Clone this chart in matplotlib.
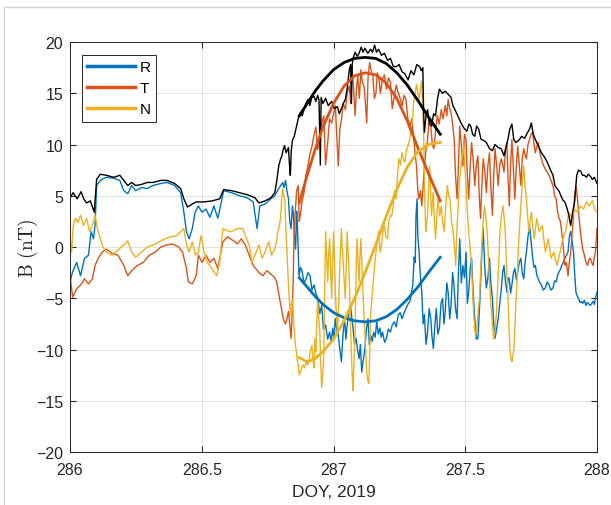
import numpy as np
import matplotlib
matplotlib.use('Agg')
import matplotlib.pyplot as plt
from matplotlib.patches import Rectangle

# MATLAB default line colours
C_R = '#0072BD'
C_T = '#D95319'
C_N = '#EDB120'

# |B| (black)
t_b = [286.000, 286.012, 286.027, 286.042, 286.052, 286.063, 286.077, 286.092, 286.101, 286.115,
       286.137, 286.167, 286.189, 286.204, 286.219, 286.234, 286.249, 286.271, 286.293, 286.315,
       286.345, 286.368, 286.397, 286.420, 286.432, 286.446, 286.464, 286.479, 286.509, 286.539,
       286.568, 286.583, 286.613, 286.643, 286.673, 286.702, 286.717, 286.740, 286.762, 286.777,
       286.785, 286.792, 286.798, 286.804, 286.809, 286.814, 286.820, 286.829, 286.833, 286.836,
       286.840, 286.844, 286.851, 286.859, 286.866, 286.874, 286.881, 286.888, 286.895, 286.903,
       286.910, 286.918, 286.926, 286.933, 286.940, 286.945, 286.950, 286.953, 286.960, 286.970,
       286.980, 286.993, 287.003, 287.015, 287.022, 287.030, 287.037, 287.045, 287.052, 287.060,
       287.065, 287.068, 287.071, 287.074, 287.082, 287.090, 287.097, 287.105, 287.112, 287.119,
       287.130, 287.141, 287.148, 287.156, 287.163, 287.171, 287.182, 287.193, 287.205, 287.216,
       287.227, 287.238, 287.249, 287.260, 287.271, 287.283, 287.294, 287.305, 287.316, 287.327,
       287.333, 287.339, 287.342, 287.345, 287.351, 287.357, 287.364, 287.372, 287.380, 287.387,
       287.395, 287.402, 287.413, 287.424, 287.435, 287.446, 287.453, 287.461, 287.470, 287.484,
       287.495, 287.506, 287.514, 287.521, 287.528, 287.536, 287.543, 287.551, 287.560, 287.570,
       287.580, 287.592, 287.603, 287.613, 287.625, 287.636, 287.647, 287.655, 287.662, 287.669,
       287.677, 287.684, 287.692, 287.703, 287.714, 287.725, 287.737, 287.744, 287.751, 287.758,
       287.766, 287.778, 287.789, 287.800, 287.811, 287.822, 287.833, 287.840, 287.848, 287.855,
       287.863, 287.870, 287.878, 287.886, 287.893, 287.900, 287.908, 287.915, 287.923, 287.930,
       287.938, 287.945, 287.952, 287.960, 287.967, 287.975, 287.982, 287.990, 288.000]
b_mag = [4.8, 5.3, 4.7, 5.4, 4.7, 4.3, 4.5, 3.4, 6.6, 7.1,
         7.0, 6.8, 7.0, 6.5, 6.0, 6.3, 6.0, 6.1, 6.3, 6.3,
         6.5, 6.5, 6.2, 5.7, 4.7, 3.9, 4.2, 4.4, 4.4, 4.5,
         4.7, 5.6, 5.5, 5.3, 5.1, 4.8, 4.3, 4.5, 4.8, 5.3,
         6.5, 7.9, 8.5, 8.9, 9.5, 9.9, 9.2, 9.7, 8.0, 7.0,
         9.5, 10.4, 10.8, 11.7, 12.5, 13.1, 12.8, 13.4, 14.0, 14.4,
         13.8, 14.6, 14.7, 14.2, 14.8, 14.3, 8.0, 14.6, 14.0, 14.5,
         13.8, 14.2, 13.5, 13.7, 13.0, 13.5, 14.0, 14.4, 15.5, 17.3,
         17.8, 14.0, 17.8, 18.4, 19.0, 18.6, 18.9, 19.5, 19.0, 19.4,
         18.9, 19.3, 19.0, 19.7, 19.0, 19.3, 18.7, 18.9, 18.2, 18.4,
         17.6, 17.6, 17.8, 17.1, 16.9, 16.3, 17.2, 16.8, 17.8, 17.6,
         17.2, 17.5, 13.0, 11.2, 12.8, 13.4, 12.0, 11.8, 13.0, 12.8,
         14.5, 15.4, 15.0, 15.2, 14.9, 14.6, 13.8, 13.4, 12.9, 12.1,
         11.6, 11.3, 12.0, 11.8, 11.0, 10.8, 11.8, 11.5, 10.5, 10.4,
         10.2, 9.6, 9.4, 10.0, 9.7, 9.6, 8.9, 9.8, 10.5, 11.5,
         12.0, 10.5, 10.2, 10.4, 10.8, 10.6, 11.2, 11.5, 12.1, 11.0,
         10.5, 9.8, 9.2, 8.8, 8.3, 7.6, 7.0, 6.0, 5.7, 5.5,
         5.0, 4.6, 4.4, 3.8, 3.1, 2.1, 3.5, 4.4, 7.0, 7.5,
         7.4, 7.0, 7.0, 6.8, 7.1, 6.9, 6.6, 6.8, 6.2]

# R component
t_r = [286.000, 286.010, 286.025, 286.040, 286.055, 286.070, 286.080, 286.089, 286.095, 286.101,
       286.115, 286.137, 286.167, 286.189, 286.204, 286.219, 286.234, 286.249, 286.271, 286.293,
       286.315, 286.345, 286.368, 286.397, 286.420, 286.432, 286.442, 286.452, 286.464, 286.475,
       286.487, 286.501, 286.516, 286.531, 286.546, 286.561, 286.571, 286.583, 286.613, 286.643,
       286.673, 286.695, 286.710, 286.720, 286.740, 286.762, 286.777, 286.785, 286.792, 286.800,
       286.807, 286.812, 286.818, 286.823, 286.829, 286.834, 286.839, 286.844, 286.848, 286.852,
       286.856, 286.860, 286.863, 286.869, 286.875, 286.881, 286.888, 286.896, 286.903, 286.911,
       286.918, 286.926, 286.933, 286.940, 286.948, 286.955, 286.962, 286.970, 286.978, 286.985,
       286.991, 286.997, 287.002, 287.007, 287.012, 287.018, 287.024, 287.030, 287.036, 287.042,
       287.047, 287.052, 287.058, 287.064, 287.069, 287.074, 287.080, 287.086, 287.091, 287.097,
       287.102, 287.107, 287.113, 287.119, 287.125, 287.131, 287.136, 287.141, 287.147, 287.152,
       287.158, 287.164, 287.170, 287.176, 287.181, 287.186, 287.194, 287.201, 287.208, 287.216,
       287.223, 287.231, 287.238, 287.246, 287.253, 287.260, 287.268, 287.275, 287.282, 287.290,
       287.295, 287.301, 287.306, 287.310, 287.313, 287.317, 287.320, 287.324, 287.330, 287.335,
       287.340, 287.345, 287.351, 287.357, 287.363, 287.369, 287.374, 287.379, 287.385, 287.390,
       287.396, 287.402, 287.408, 287.414, 287.419, 287.424, 287.430, 287.435, 287.441, 287.446,
       287.452, 287.457, 287.463, 287.469, 287.474, 287.479, 287.485, 287.491, 287.497, 287.503,
       287.508, 287.513, 287.519, 287.524, 287.530, 287.536, 287.542, 287.548, 287.553, 287.558,
       287.563, 287.568, 287.574, 287.580, 287.586, 287.592, 287.597, 287.603, 287.608, 287.613,
       287.619, 287.625, 287.631, 287.637, 287.642, 287.647, 287.653, 287.658, 287.662, 287.667,
       287.672, 287.677, 287.683, 287.688, 287.694, 287.699, 287.705, 287.711, 287.716, 287.722,
       287.727, 287.732, 287.738, 287.744, 287.750, 287.756, 287.761, 287.766, 287.772, 287.777,
       287.783, 287.789, 287.796, 287.804, 287.811, 287.818, 287.825, 287.833, 287.839, 287.845,
       287.850, 287.856, 287.861, 287.866, 287.872, 287.878, 287.884, 287.890, 287.895, 287.900,
       287.906, 287.911, 287.915, 287.920, 287.925, 287.930, 287.935, 287.940, 287.946, 287.952,
       287.958, 287.964, 287.970, 287.975, 287.980, 287.985, 287.990, 287.994, 288.000]
b_r = [-3.4, -2.4, -1.5, -2.8, -1.1, -0.8, 1.5, 0.8, 2.1, 6.0,
       6.5, 6.8, 6.7, 6.5, 5.5, 5.2, 6.0, 5.5, 5.8, 5.7,
       6.0, 6.2, 6.3, 6.0, 5.3, 3.4, 1.5, 0.8, 1.8, 3.4,
       4.0, 3.4, 3.7, 2.9, 4.0, 2.8, 4.0, 5.5, 5.3, 5.0,
       4.8, 4.4, 1.8, 4.0, 4.2, 4.7, 5.0, 5.4, 5.7, 6.0,
       6.3, 5.8, 6.5, 5.5, 4.7, 2.5, 1.8, 4.0, 3.1, 1.0,
       -0.2, 3.5, 2.1, -2.8, -2.0, -2.4, -3.5, -3.1, -2.5, -2.8,
       -4.2, -3.7, -4.5, -5.0, -6.5, -5.7, -8.0, -7.6, -9.0, -8.3,
       -9.3, -7.9, -9.0, -7.0, -8.0, -8.6, -10.0, -11.2, -8.5, -7.0,
       -9.0, -7.6, -6.5, -5.7, -6.8, -7.9, -9.5, -8.9, -10.0, -10.9,
       -9.5, -12.2, -11.0, -9.9, -8.0, -7.0, -9.5, -8.6, -9.2, -8.3,
       -8.8, -7.3, -8.5, -7.9, -8.8, -8.3, -9.3, -8.9, -8.0, -8.3,
       -7.6, -7.3, -7.8, -6.6, -6.4, -7.0, -6.4, -6.0, -5.6, -5.3,
       -4.6, -3.7, -1.0, -1.5, 3.0, 4.7, 1.0, -0.2, -3.0, -4.4,
       -7.5, -6.6, -9.5, -8.3, -6.0, -7.0, -8.8, -9.9, -7.5, -6.0,
       -8.5, -7.9, -5.5, -5.0, -7.5, -6.3, -3.5, -4.4, -7.0, -5.7,
       -2.5, -3.7, -6.0, -7.0, -2.5, 0.8, -3.5, -1.8, -3.0, -0.5,
       -5.5, -4.4, -2.0, -1.1, -4.5, -7.0, -9.0, -8.9, -6.5, -3.7,
       -0.5, 1.8, -2.0, -4.0, -3.0, -1.1, -3.5, -5.0, -7.5, -8.9,
       -8.0, -7.0, -5.5, -4.0, -2.5, -1.8, -3.5, -4.4, -3.0, -3.1,
       -4.5, -3.7, -2.5, -2.1, -3.2, -2.4, -1.5, -1.1, -2.5, -3.1,
       -1.5, -0.5, 1.0, 2.1, 0.5, -1.1, -2.0, -1.8, -2.8, -3.1,
       -3.5, -3.7, -4.2, -4.0, -3.4, -3.7, -4.2, -4.0, -3.3, -3.4,
       -2.8, -2.4, -2.2, -1.8, -1.5, -1.1, -0.8, -0.5, 1.0, 1.5,
       0.5, -0.5, -2.5, -4.4, -4.8, -5.0, -5.4, -5.3, -5.5, -5.2,
       -5.7, -5.4, -5.6, -5.7, -5.5, -5.3, -5.6, -5.0, -4.4]

# T component
t_t = [286.000, 286.010, 286.025, 286.040, 286.055, 286.070, 286.085, 286.095, 286.107, 286.122,
       286.137, 286.159, 286.182, 286.204, 286.219, 286.234, 286.256, 286.278, 286.301, 286.323,
       286.345, 286.368, 286.390, 286.412, 286.427, 286.442, 286.449, 286.464, 286.479, 286.487,
       286.501, 286.516, 286.531, 286.546, 286.561, 286.580, 286.598, 286.621, 286.635, 286.650,
       286.665, 286.680, 286.695, 286.717, 286.732, 286.747, 286.769, 286.777, 286.784, 286.790,
       286.795, 286.801, 286.807, 286.812, 286.818, 286.823, 286.829, 286.834, 286.839, 286.843,
       286.847, 286.850, 286.854, 286.860, 286.866, 286.870, 286.874, 286.881, 286.888, 286.895,
       286.903, 286.910, 286.918, 286.925, 286.933, 286.940, 286.948, 286.955, 286.963, 286.970,
       286.978, 286.985, 286.993, 287.000, 287.007, 287.012, 287.018, 287.024, 287.030, 287.037,
       287.045, 287.052, 287.060, 287.065, 287.070, 287.076, 287.082, 287.087, 287.092, 287.098,
       287.104, 287.110, 287.116, 287.121, 287.126, 287.131, 287.137, 287.143, 287.149, 287.155,
       287.161, 287.166, 287.171, 287.178, 287.186, 287.193, 287.201, 287.208, 287.216, 287.223,
       287.231, 287.238, 287.246, 287.253, 287.260, 287.268, 287.275, 287.282, 287.290, 287.297,
       287.305, 287.310, 287.315, 287.320, 287.324, 287.330, 287.335, 287.340, 287.345, 287.351,
       287.357, 287.363, 287.369, 287.375, 287.381, 287.388, 287.394, 287.401, 287.409, 287.416,
       287.424, 287.430, 287.435, 287.441, 287.446, 287.452, 287.458, 287.463, 287.469, 287.474,
       287.479, 287.485, 287.491, 287.497, 287.503, 287.508, 287.513, 287.519, 287.524, 287.530,
       287.536, 287.542, 287.548, 287.553, 287.558, 287.563, 287.568, 287.574, 287.580, 287.586,
       287.592, 287.597, 287.603, 287.608, 287.613, 287.619, 287.625, 287.631, 287.637, 287.642,
       287.647, 287.653, 287.658, 287.662, 287.667, 287.672, 287.677, 287.683, 287.688, 287.694,
       287.699, 287.705, 287.711, 287.716, 287.722, 287.727, 287.732, 287.738, 287.744, 287.750,
       287.756, 287.761, 287.766, 287.772, 287.777, 287.783, 287.789, 287.796, 287.804, 287.811,
       287.818, 287.825, 287.833, 287.839, 287.845, 287.850, 287.856, 287.861, 287.866, 287.872,
       287.878, 287.884, 287.890, 287.895, 287.900, 287.906, 287.911, 287.915, 287.920, 287.925,
       287.930, 287.935, 287.940, 287.946, 287.952, 287.958, 287.964, 287.970, 287.975, 287.980,
       287.985, 287.990, 287.994, 288.000]
b_t = [-2.8, -4.9, -4.1, -3.7, -3.1, -3.6, -3.1, -1.8, -1.1, -0.5,
       -0.2, -0.6, -0.8, -1.8, -2.8, -2.3, -1.8, -1.5, -0.8, -0.5,
       0.0, 0.2, 0.3, 0.0, -0.5, -2.1, -3.4, -3.6, -2.8, -0.8,
       -1.5, -0.8, -1.5, -1.1, -2.1, 0.5, 1.0, 0.6, 0.3, 0.8,
       0.2, -0.8, -1.8, -2.5, -2.8, -2.3, -2.8, -3.0, -3.4, -4.2,
       -5.0, -5.8, -6.7, -7.2, -7.5, -7.0, -6.3, -7.5, -8.9, -6.5,
       -3.4, 1.0, 3.1, 5.5, 6.0, 2.5, 3.1, 4.5, 5.3, 7.0,
       7.9, 9.0, 9.8, 10.8, 11.7, 9.5, 11.1, 12.0, 12.8, 8.0,
       10.2, 12.5, 12.1, 13.0, 13.8, 11.0, 7.9, 11.5, 12.4, 14.0,
       13.4, 15.0, 15.7, 14.0, 17.6, 15.5, 12.8, 15.5, 16.7, 14.5,
       17.3, 16.0, 15.7, 14.0, 12.1, 16.5, 18.0, 17.2, 16.7, 14.5,
       15.0, 17.0, 16.7, 15.0, 16.4, 16.8, 15.4, 16.5, 16.1, 13.5,
       14.7, 15.8, 15.0, 14.5, 13.8, 14.8, 14.4, 12.5, 11.8, 12.5,
       10.5, 9.0, 7.9, 5.5, 4.7, 5.5, 4.0, 6.0, 7.9, 9.5,
       10.5, 12.5, 11.8, 10.0, 9.6, 11.5, 12.8, 12.0, 13.4, 12.5,
       13.8, 12.8, 14.4, 13.5, 13.1, 12.0, 10.5, 7.0, 4.7, 8.0,
       11.8, 10.0, 7.9, 11.0, 10.5, 7.0, 4.7, 8.0, 10.2, 8.5,
       6.0, 8.0, 8.9, 5.0, 2.8, 6.0, 8.6, 7.5, 5.3, 8.0,
       9.2, 6.0, 3.1, 7.0, 9.6, 8.0, 6.0, 8.0, 8.6, 8.0,
       7.3, 9.5, 10.2, 7.0, 4.0, 8.0, 10.5, 7.5, 4.7, 8.0,
       9.8, 8.0, 6.0, 8.5, 9.6, 9.0, 8.6, 10.0, 10.5, 11.0,
       11.2, 10.0, 9.2, 9.8, 10.2, 9.2, 8.6, 8.0, 7.6, 7.3,
       7.0, 6.5, 6.0, 5.0, 4.7, 3.5, 2.8, 2.5, 1.5, 0.0,
       -1.8, -1.5, -2.8, -1.5, -0.5, 1.5, 3.1, 5.0, 6.0, 5.0,
       3.4, 2.0, 0.8, -0.2, -0.8, -1.5, -1.8, -1.2, -1.1, -1.5,
       -1.8, -1.0, -0.5, 1.8]

# N component
t_n = [286.000, 286.006, 286.012, 286.021, 286.030, 286.040, 286.051, 286.063, 286.074, 286.085,
       286.095, 286.104, 286.115, 286.125, 286.137, 286.159, 286.182, 286.204, 286.219, 286.234,
       286.249, 286.271, 286.293, 286.315, 286.338, 286.360, 286.382, 286.405, 286.420, 286.432,
       286.442, 286.452, 286.464, 286.476, 286.487, 286.497, 286.509, 286.521, 286.531, 286.546,
       286.557, 286.568, 286.580, 286.595, 286.613, 286.635, 286.655, 286.670, 286.680, 286.690,
       286.702, 286.717, 286.729, 286.740, 286.754, 286.765, 286.777, 286.783, 286.789, 286.794,
       286.799, 286.803, 286.807, 286.811, 286.815, 286.818, 286.821, 286.825, 286.829, 286.833,
       286.836, 286.840, 286.844, 286.848, 286.851, 286.855, 286.859, 286.862, 286.866, 286.870,
       286.874, 286.879, 286.884, 286.890, 286.896, 286.902, 286.908, 286.913, 286.918, 286.922,
       286.926, 286.930, 286.933, 286.937, 286.940, 286.944, 286.948, 286.951, 286.955, 286.959,
       286.963, 286.966, 286.970, 286.974, 286.978, 286.981, 286.985, 286.989, 286.993, 286.996,
       287.000, 287.004, 287.007, 287.011, 287.015, 287.019, 287.022, 287.026, 287.030, 287.033,
       287.037, 287.041, 287.045, 287.048, 287.052, 287.056, 287.060, 287.063, 287.067, 287.071,
       287.074, 287.078, 287.082, 287.085, 287.089, 287.093, 287.097, 287.100, 287.104, 287.108,
       287.112, 287.115, 287.119, 287.123, 287.126, 287.130, 287.134, 287.138, 287.141, 287.147,
       287.152, 287.157, 287.161, 287.166, 287.171, 287.177, 287.182, 287.188, 287.193, 287.199,
       287.205, 287.210, 287.216, 287.221, 287.226, 287.232, 287.238, 287.243, 287.248, 287.254,
       287.260, 287.266, 287.271, 287.277, 287.283, 287.289, 287.295, 287.300, 287.305, 287.310,
       287.315, 287.320, 287.324, 287.330, 287.335, 287.338, 287.342, 287.346, 287.350, 287.354,
       287.357, 287.361, 287.365, 287.369, 287.372, 287.376, 287.379, 287.383, 287.387, 287.392,
       287.397, 287.403, 287.409, 287.414, 287.420, 287.426, 287.432, 287.437, 287.442, 287.448,
       287.454, 287.459, 287.464, 287.468, 287.473, 287.478, 287.484, 287.489, 287.494, 287.498,
       287.503, 287.508, 287.513, 287.518, 287.524, 287.528, 287.533, 287.538, 287.543, 287.548,
       287.554, 287.558, 287.562, 287.567, 287.573, 287.578, 287.583, 287.588, 287.592, 287.597,
       287.603, 287.608, 287.613, 287.618, 287.622, 287.627, 287.632, 287.637, 287.643, 287.647,
       287.652, 287.657, 287.662, 287.666, 287.670, 287.674, 287.677, 287.681, 287.685, 287.689,
       287.693, 287.698, 287.702, 287.706, 287.711, 287.716, 287.722, 287.727, 287.732, 287.737,
       287.741, 287.746, 287.751, 287.756, 287.762, 287.771, 287.781, 287.792, 287.804, 287.815,
       287.826, 287.836, 287.848, 287.860, 287.870, 287.881, 287.893, 287.905, 287.915, 287.926,
       287.938, 287.949, 287.960, 287.970, 287.982, 287.991, 288.000]
b_n = [0.8, -0.5, 2.1, 2.8, 2.4, 3.1, 2.1, 2.8, 1.5, 2.1,
       3.1, 1.8, 0.8, 0.0, -0.5, -0.8, -0.3, 0.2, 0.6, -0.5,
       -1.0, -0.5, 0.0, 0.2, 0.5, 0.8, 1.0, 1.1, 1.5, 1.8,
       0.2, -0.5, 0.5, -0.8, -0.5, 1.1, -0.5, -1.5, -1.8, -2.4,
       -2.8, -1.5, 1.8, 1.6, 1.5, 1.8, 1.8, 0.8, 0.2, -1.5,
       -0.8, 0.2, -1.1, -0.5, 0.5, -0.8, -0.2, 0.5, 1.5, 2.0,
       2.8, 4.5, 5.7, 5.0, 4.7, 2.5, 0.8, -1.5, -3.7, -5.5,
       -6.7, -5.5, -5.0, -7.0, -8.3, -9.5, -10.2, -11.0, -11.5, -12.5,
       -12.2, -11.8, -11.5, -11.8, -11.2, -11.5, -10.9, -10.0, -9.6, -11.0,
       -11.8, -9.0, -10.2, -7.0, -5.0, -7.0, -8.3, -11.0, -13.7, -12.5,
       -10.9, -5.0, 1.5, -1.0, -3.4, -1.0, 0.8, -2.0, -5.0, -2.0,
       1.5, -1.5, -4.4, -6.5, -8.3, -6.0, -3.4, -0.5, 1.8, 0.0,
       -1.8, -3.5, -5.0, -2.0, 1.5, -1.0, -3.1, -6.5, -9.9, -12.5,
       -14.0, -11.0, -8.3, -3.5, 0.8, -1.5, -3.4, -1.0, 0.8, -2.0,
       -4.4, -6.5, -8.3, -10.5, -12.2, -13.0, -13.3, -10.0, -6.6, -4.5,
       -3.1, -1.5, -0.5, 0.5, 1.5, -0.5, 0.2, 1.5, 2.1, 1.0,
       0.8, 2.5, 3.1, 3.0, 4.0, 5.5, 4.7, 7.0, 8.6, 8.0,
       9.2, 8.5, 8.3, 9.5, 9.9, 10.5, 11.7, 12.5, 14.3, 15.0,
       15.9, 15.0, 14.3, 15.5, 16.2, 14.0, 11.2, 5.0, 1.5, 2.5,
       3.1, 6.0, 7.9, 5.0, 3.1, 4.5, 5.3, 2.5, 0.8, 3.0,
       4.7, 3.0, 4.0, 2.5, 1.5, 4.0, 6.0, 5.0, 4.7, 2.5,
       1.5, 0.0, -1.8, 1.5, 4.0, 6.5, 7.9, 9.0, 9.9, 8.0,
       6.0, 3.5, 1.5, 0.0, -1.8, -4.5, -7.0, -8.5, -8.3, -6.5,
       -5.0, -2.5, -0.2, 2.0, 4.0, 3.0, 1.5, -1.0, -3.4, -5.5,
       -7.6, -9.0, -8.3, -6.5, -4.4, -1.5, 1.5, 3.0, 4.0, 3.0,
       1.5, -2.0, -5.0, -8.0, -10.2, -11.0, -11.2, -10.5, -9.9, -7.5,
       -5.0, -2.5, 0.2, 2.0, 4.0, 6.0, 7.9, 6.0, 4.7, 3.0,
       1.5, 2.5, 3.4, 2.0, 0.8, 2.8, 1.5, 2.1, -0.5, 0.8,
       -1.1, -0.5, -1.8, -0.5, 0.8, 1.5, 3.4, 2.8, 3.7, 3.4,
       4.0, 3.7, 4.4, 4.0, 4.5, 3.7, 3.4]

# model fits over the flux rope interval
t_fit = [286.870, 286.900, 286.930, 286.960, 287.000, 287.040, 287.080, 287.120,
         287.160, 287.200, 287.240, 287.280, 287.320, 287.360, 287.405]
fit_b = [12.8, 14.0, 15.2, 16.2, 17.3, 18.0, 18.4, 18.5, 18.4, 17.9, 17.0, 15.8, 14.3, 12.7, 11.0]
fit_r = [-3.0, -3.9, -4.8, -5.6, -6.4, -6.9, -7.2, -7.3, -7.2, -6.8, -6.1, -5.1, -3.9, -2.5, -1.0]
fit_t = [4.3, 7.0, 9.5, 11.7, 14.0, 15.7, 16.7, 17.0, 16.8, 16.0, 14.5, 12.3, 9.7, 7.2, 4.5]
fit_n = [-10.8, -11.2, -10.9, -10.2, -9.0, -7.2, -5.0, -2.5, 0.2, 3.0, 5.6, 7.8, 9.3, 10.0, 10.2]

plt.rcParams['font.family'] = ['Liberation Sans', 'DejaVu Sans']
plt.rcParams['mathtext.fontset'] = 'cm'

fig = plt.figure(figsize=(6.11, 5.06), dpi=100)
# thin grey frame around the image
fig.patches.append(Rectangle((0.006, -0.01), 1.0, 0.994, transform=fig.transFigure,
                             fill=False, edgecolor='#d4d4d4', lw=1.0))
ax = fig.add_axes([0.1146, 0.1047, 0.8625, 0.8103])

lw = 1.0
ax.plot(t_r, b_r, color=C_R, lw=lw, label='R')
ax.plot(t_t, b_t, color=C_T, lw=lw, label='T')
ax.plot(t_n, b_n, color=C_N, lw=lw, label='N')
ax.plot(t_b, b_mag, color='k', lw=lw)

ax.plot(t_fit, fit_b, color='k', lw=2.0)
ax.plot(t_fit, fit_r, color=C_R, lw=2.0)
ax.plot(t_fit, fit_t, color=C_T, lw=2.0)
ax.plot(t_fit, fit_n, color=C_N, lw=2.0)

ax.set_xlim(286, 288)
ax.set_ylim(-20, 20)
ax.set_xticks([286, 286.5, 287, 287.5, 288])
ax.set_xticklabels(['286', '286.5', '287', '287.5', '288'])
ax.set_yticks(np.arange(-20, 21, 5))
ax.grid(True, color='#dcdcdc', lw=0.6)
ax.set_axisbelow(True)
ax.tick_params(direction='in', labelsize=11.5, colors='#262626', length=4,
               top=True, right=True)
ax.tick_params(axis='x', pad=7)
ax.tick_params(axis='y', pad=5)
for s in ax.spines.values():
    s.set_color('#262626')
    s.set_linewidth(0.7)

ax.set_xlabel('DOY, 2019', fontsize=12.5, color='#262626', labelpad=5)
ax.set_ylabel(r'$\mathrm{B\ (nT)}$', fontsize=14, color='#262626', labelpad=-3)

leg_handles = [plt.Line2D([], [], color=c, lw=2.5) for c in (C_R, C_T, C_N)]
leg = ax.legend(leg_handles, ['R', 'T', 'N'], loc='upper left',
                bbox_to_anchor=(0.023, 0.968), borderaxespad=0, fontsize=11,
                handlelength=3.1, handletextpad=0.3, labelspacing=0.45,
                fancybox=False, framealpha=1, borderpad=0.35)
leg.get_frame().set_edgecolor('#262626')
leg.get_frame().set_linewidth(0.7)

plt.savefig('out.png', dpi=100)
